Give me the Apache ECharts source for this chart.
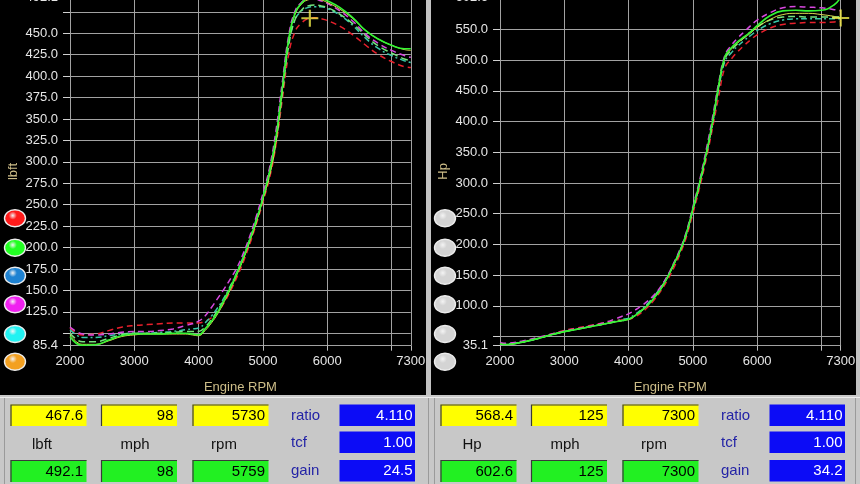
<!DOCTYPE html>
<html><head><meta charset="utf-8">
<script src="https://cdn.jsdelivr.net/npm/echarts@6/dist/echarts.min.js"></script>
<style>html,body{margin:0;padding:0;background:#000;}#c{width:860px;height:484px;}</style>
</head><body><div id="c"></div>
<script>
// ---------- data ----------
const rpm = [2000,2100,2200,2400,2600,2800,3000,3200,3400,3600,3800,3900,4000,4100,4200,4300,4400,4500,4600,4700,4800,4900,5000,5100,5200,5300,5400,5500,5600,5700,5800,5900,6000,6200,6400,6600,6800,7000,7200,7300];

const torqueGreen   = [96,88,86,86.5,92,97,99,99,99,100,100,99,98,105,114,125,139,154,171,189,210,232,258,287,327,385,443,474,485,491,492,491,488,480,468,453,443,436,432,432];
const torqueMagenta = [107,102,99,98,99,101,102,102,103,105,109,111,114,120,130,141,152,164,177,194,214,237,263,292,335,392,447,476,486,490,490,488,485,476,464,449,438,430,424,422];
const torqueTeal    = [104,98,95,95,97,99,100,100,101,102,104,105,106,112,120,130,142,156,172,190,211,234,259,288,328,383,438,466,476,480,481,481,479,471,459,444,432,424,418,416];
const torqueLtGreen = [100,93,90,90,94,98,100,100,100,101,102,102,102,107,116,127,140,155,171,189,209,231,256,284,322,378,435,466,477,482,483,482,480,472,461,447,435,427,420,418];
const torqueRed     = [106,100,98,99,103,107,109,110,111,112,112,112,112,114,118,125,136,150,166,184,205,228,253,280,318,372,425,452,462,467,468,467,465,458,448,436,425,417,411,410];
const torqueYellow  = [98,90,87,87,91,96,98,99,99,99,99,98,97,103,112,123,137,152,169,187,208,230,256,283,322,382,442,472,484,489,490,489,486,478,467,453,443,436,431,430];

const hpGreen   = [38,37,38,42,47,53,58,62,66,70,74,76,78,84,92,101,113,127,145,167,189,218,258,298,344,396,458,506,520,530,538,546,556,572,580,581,580,581,590,602.6];
const hpMagenta = [40,39,40,44,49,54,59,63,67,72,79,83,87,93,100,108,118,131,148,169,192,221,261,302,350,403,462,508,524,536,546,556,565,577,585,587,586,585,582,580];
const hpTeal    = [39,38,39,42,47,53,58,62,66,70,75,78,80,86,94,104,116,130,147,167,190,218,256,296,342,393,452,498,512,523,532,540,548,559,565,567,567,567,567,567];
const hpLtGreen = [38,37,38,42,47,53,58,62,66,70,74,76,78,84,92,102,115,129,146,167,189,217,256,296,342,394,455,502,516,527,537,546,554,565,570,571,570,570,570,571];
const hpRed     = [39,38,39,43,48,54,60,64,68,72,76,77,78,82,89,98,110,124,141,161,184,212,250,290,335,386,440,488,502,514,524,533,541,552,558,560,561,561,562,563];
const hpYellow  = [38,37,38,42,47,53,58,62,66,70,74,76,78,84,92,101,113,127,145,166,189,218,257,297,343,395,456,504,518,528,536,544,553,566,574,576,576,574,571,568.4];

const cursorLeft  = [5730, 467.6];
const cursorRight = [7300, 568.4];

const xTicks  = [2000,3000,4000,5000,6000,7000,7300];
const xLabels = [2000,3000,4000,5000,6000,7300];
const torqueTicks  = [85.4,100,125,150,175,200,225,250,275,300,325,350,375,400,425,450,475,492.1];
const torqueLabels = [85.4,125,150,175,200,225,250,275,300,325,350,375,400,425,450,492.1];
const hpTicks  = [35.1,50,100,150,200,250,300,350,400,450,500,550,602.6];
const hpLabels = [35.1,100,150,200,250,300,350,400,450,500,550,602.6];

const leftTop    = ['467.6','98','5730'];
const leftBottom = ['492.1','98','5759'];
const leftUnits  = ['lbft','mph','rpm'];
const rightTop    = ['568.4','125','7300'];
const rightBottom = ['602.6','125','7300'];
const rightUnits  = ['Hp','mph','rpm'];
const sideNames  = ['ratio','tcf','gain'];
const leftSide   = ['4.110','1.00','24.5'];
const rightSide  = ['4.110','1.00','34.2'];
const legendColors = ['#ff1a1a','#22ff22','#1e82d2','#f020f0','#22f2f2','#f3a020'];

// ---------- styles ----------
const FONT = '"Liberation Sans", Arial, sans-serif';
const runs = [
  {t: torqueRed,     h: hpRed,     color:'#e8202c', type:[6,4],     width:1.5},
  {t: torqueTeal,    h: hpTeal,    color:'#38c8a8', type:[6,3,2,3], width:1.5},
  {t: torqueLtGreen, h: hpLtGreen, color:'#74e47c', type:[7,4],     width:1.5},
  {t: torqueMagenta, h: hpMagenta, color:'#d848e0', type:[6,4],     width:1.5},
  {t: torqueYellow,  h: hpYellow,  color:'#dcdc50', type:'solid',   width:1},
  {t: torqueGreen,   h: hpGreen,   color:'#33f533', type:'solid',   width:1.6}
];
const pair = (xs, ys) => xs.map((x, i) => [x, ys[i]]);
const grid1 = {left:70, right:449.2, top:-2.8, bottom:138.3};
const grid2 = {left:500, right:19.3, top:-3.0, bottom:138.3};
const gridLine = '#a2a2a2';

function xAxis(gi){
  return {type:'value', gridIndex:gi, min:2000, max:7300,
    name:'Engine RPM', nameLocation:'middle', nameGap:35,
    nameTextStyle:{color:'#cdbd88', fontSize:13, fontFamily:FONT},
    axisLine:{show:true, lineStyle:{color:gridLine}},
    axisTick:{show:true, length:5, lineStyle:{color:'#bdbdbd'}, customValues:xTicks},
    axisLabel:{color:'#e6e6e6', fontSize:13, fontFamily:FONT, margin:9, customValues:xLabels,
      formatter: v => String(Math.round(v))},
    splitLine:{show:true, lineStyle:{color:gridLine, width:1}}};
}
function yAxis(gi, name, min, max, ticks, labels){
  return {type:'value', gridIndex:gi, min:min, max:max,
    name:name, nameLocation:'middle', nameGap:50, nameRotate:90,
    nameTextStyle:{color:'#cdbd88', fontSize:13, fontFamily:FONT},
    axisLine:{show:false},
    axisTick:{show:true, length:7, lineStyle:{color:'#d0d0d0'}, customValues:ticks},
    axisLabel:{color:'#e6e6e6', fontSize:13, fontFamily:FONT, margin:12, customValues:labels,
      formatter: v => Number(v).toFixed(1)},
    splitLine:{show:true, lineStyle:{color:gridLine, width:1}}};
}

const series = [];
runs.forEach(r => {
  series.push({type:'line', xAxisIndex:0, yAxisIndex:0, data:pair(rpm, r.t), showSymbol:false,
    smooth:0.45, lineStyle:{color:r.color, type:r.type, width:r.width}, silent:true});
  series.push({type:'line', xAxisIndex:1, yAxisIndex:1, data:pair(rpm, r.h), showSymbol:false,
    smooth:0.45, lineStyle:{color:r.color, type:r.type, width:r.width}, silent:true});
});
const plus = 'path://M7,0h2v7h7v2h-7v7h-2v-7h-7v-2h7z';
series.push({type:'scatter', xAxisIndex:0, yAxisIndex:0, data:[cursorLeft], symbol:plus, symbolSize:17,
  itemStyle:{color:'#f2ee4a'}, z:10, silent:true});
series.push({type:'scatter', xAxisIndex:1, yAxisIndex:1, data:[cursorRight], symbol:plus, symbolSize:17,
  itemStyle:{color:'#f2ee4a'}, z:10, silent:true});

// ---------- graphics (frame, legend buttons, readout panel) ----------
const g = [];
g.push({type:'rect', shape:{x:426, y:0, width:5, height:396}, style:{fill:'#c2c2c2'}});
g.push({type:'rect', shape:{x:856, y:0, width:4, height:396}, style:{fill:'#c2c2c2'}});
g.push({type:'rect', shape:{x:0, y:395, width:860, height:89}, style:{fill:'#c8c8c8'}});
g.push({type:'line', shape:{x1:0, y1:397.5, x2:860, y2:397.5}, style:{stroke:'#ececec', lineWidth:1}});
[4.5, 428.5, 434.5, 855.5].forEach(x => {
  g.push({type:'line', shape:{x1:x, y1:398, x2:x, y2:484}, style:{stroke:'#9a9a9a', lineWidth:1}});
});
const btnY = [218.3, 247.7, 275.7, 304.3, 334, 361.7];
btnY.forEach((y, i) => {
  [[15, legendColors[i]], [445, '#d4d4d4']].forEach(([cx, col]) => {
    g.push({type:'ellipse', shape:{cx:cx, cy:y, rx:10.5, ry:8.5},
      style:{fill:{type:'radial', x:0.4, y:0.35, r:0.9,
        colorStops:[{offset:0, color:'#f4f4f4'},{offset:0.25, color:col},{offset:1, color:col}]},
        stroke:'#ececec', lineWidth:1.4}});
  });
});
function box(x, y, w, h, fill){
  g.push({type:'rect', shape:{x:x, y:y, width:w, height:h}, style:{fill:fill}});
  g.push({type:'polyline', shape:{points:[[x+0.5, y+h],[x+0.5, y+0.5],[x+w, y+0.5]]},
    style:{stroke:'#3a3a3a', lineWidth:1.2, fill:null}});
}
function txt(x, y, s, color, align){
  g.push({type:'text', x:x, y:y, style:{text:s, fill:color, font:'15px ' + FONT,
    textAlign:align, textVerticalAlign:'middle', verticalAlign:'middle'}});
}
function panel(ox, top, bottom, units, side){
  const bx = [10.5, 101, 192.5];
  bx.forEach((x, i) => {
    box(ox + x, 404.5, 76, 21.5, '#ffff00');
    txt(ox + x + 72.5, 415.5, top[i], '#000', 'right');
    box(ox + x, 460, 76, 22, '#22f022');
    txt(ox + x + 72.5, 471.5, bottom[i], '#000', 'right');
  });
  const ux = [42, 135, 224];
  units.forEach((u, i) => txt(ox + ux[i], 445, u, '#111', 'center'));
  const sy = [404.5, 431.5, 460];
  sideNames.forEach((n, i) => {
    txt(ox + 291, sy[i] + 11, n, '#2424a6', 'left');
    g.push({type:'rect', shape:{x:ox + 339.5, y:sy[i], width:75.5, height:21.5}, style:{fill:'#0c0cf6'}});
    txt(ox + 412.5, sy[i] + 11, side[i], '#ffffff', 'right');
  });
}
panel(0, leftTop, leftBottom, leftUnits, leftSide);
panel(430, rightTop, rightBottom, rightUnits, rightSide);

const option = {
  backgroundColor:'#000',
  animation:false,
  grid:[Object.assign({containLabel:false, outerBoundsMode:'none'}, grid1),
        Object.assign({containLabel:false, outerBoundsMode:'none'}, grid2)],
  xAxis:[xAxis(0), xAxis(1)],
  yAxis:[yAxis(0, 'lbft', 85.4, 492.1, torqueTicks, torqueLabels),
         yAxis(1, 'Hp', 35.1, 602.6, hpTicks, hpLabels)],
  series: series,
  graphic: g
};
const chart = echarts.init(document.getElementById('c'), null, {renderer:'canvas', width:860, height:484});
chart.setOption(option);
</script></body></html>
